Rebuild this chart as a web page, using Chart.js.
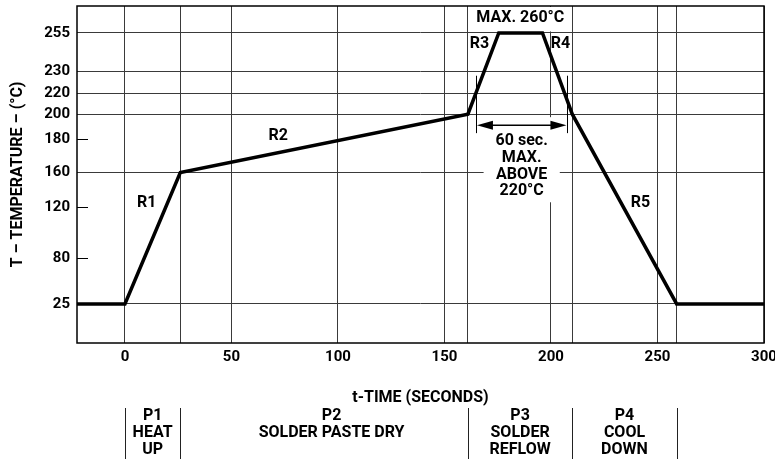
<!DOCTYPE html>
<html><head><meta charset="utf-8">
<script src="https://cdn.jsdelivr.net/npm/chart.js@4.4.1/dist/chart.umd.min.js"></script>
<style>html,body{margin:0;padding:0;background:#fff}#wrap{width:775px;height:462px;position:relative}</style>
</head><body><div id="wrap"><canvas id="c"></canvas></div>
<script>
// ---------- data ----------
const profileTime = [-22.5, 0, 26, 161, 175.5, 196, 210, 259, 300];
const profileTemp = [25, 25, 160, 200, 255, 255, 200, 25, 25];
const xTickValues = [0, 50, 100, 150, 200, 250, 300];
const phaseBounds = [0, 26, 161, 210, 259];
const yTickValues = [25, 80, 120, 160, 180, 200, 220, 230, 255];
const yGridValues = [25, 160, 200, 220, 230, 255];
const phaseLabels = [['P1', 'HEAT', 'UP'], ['P2', 'SOLDER PASTE DRY'], ['P3', 'SOLDER', 'REFLOW'], ['P4', 'COOL', 'DOWN']];
const phaseLabelTime = [13, 97, 185.5, 234.5];
const rateLabels = ['R1', 'R2', 'R3', 'R4', 'R5'];
const rateLabelTime = [10.2, 72, 166.4, 204.4, 242];
const rateLabelTemp = [125, 183, 247.5, 247.5, 125];
const peakLabel = 'MAX. 260°C';
const peakLabelAt = [185.6, 263.5];
const windowLabel = ['60 sec.', 'MAX.', 'ABOVE', '220°C'];
const windowTime = [165, 207.5];
const windowArrowTemp = 191.3;
const windowMarkTemp = [228, 185];

// ---------- schematic (non-linear) temperature axis ----------
const Y_STOPS = [[0, 0], [25, 0.1159], [80, 0.2513], [120, 0.404], [160, 0.506], [180, 0.604], [200, 0.679], [220, 0.7415], [230, 0.806], [255, 0.92], [270, 1]];
function warp(v) {
  for (let i = 1; i < Y_STOPS.length; i++) {
    const [v0, f0] = Y_STOPS[i - 1], [v1, f1] = Y_STOPS[i];
    if (v <= v1 || i === Y_STOPS.length - 1) return f0 + (v - v0) / (v1 - v0) * (f1 - f0);
  }
}
function unwarp(f) {
  for (let i = 1; i < Y_STOPS.length; i++) {
    const [v0, f0] = Y_STOPS[i - 1], [v1, f1] = Y_STOPS[i];
    if (f <= f1 || i === Y_STOPS.length - 1) return v0 + (f - f0) / (f1 - f0) * (v1 - v0);
  }
}
class WarpScale extends Chart.LinearScale {
  getPixelForValue(v) { return this.getPixelForDecimal(warp(v)); }
  getValueForPixel(p) { return unwarp(this.getDecimalForPixel(p)); }
}
WarpScale.id = 'warp';
WarpScale.defaults = Chart.LinearScale.defaults;
Chart.register(WarpScale);

const FAMILY = "Roboto, 'Liberation Sans', sans-serif";
const FONT = "bold 16px " + FAMILY;
Chart.defaults.font.family = FAMILY;
Chart.defaults.font.size = 16;
Chart.defaults.font.weight = 'bold';
Chart.defaults.color = '#000';

const GRID = '#3a3a3a';

const notes = {
  id: 'notes',
  beforeDatasetsDraw(chart) {
    const {ctx, chartArea: a} = chart;
    const xs = chart.scales.x, ys = chart.scales.y;
    ctx.save();
    // short inward ticks
    ctx.strokeStyle = '#000'; ctx.lineWidth = 1;
    yTickValues.filter(v => !yGridValues.includes(v)).forEach(v => {
      const py = Math.round(ys.getPixelForValue(v)) + 0.5;
      ctx.beginPath(); ctx.moveTo(a.left, py); ctx.lineTo(a.left + 11, py); ctx.stroke();
    });
    ctx.font = FONT; ctx.fillStyle = '#000'; ctx.textAlign = 'center'; ctx.textBaseline = 'middle';
    // peak label with white backing
    const pcx = xs.getPixelForValue(peakLabelAt[0]);
    const pw = ctx.measureText(peakLabel).width;
    ctx.fillStyle = '#fff';
    ctx.fillRect(pcx - pw / 2 - 7, a.top + 1, pw + 14, ys.getPixelForValue(255) - a.top - 2.5);
    ctx.fillStyle = '#000';
    ctx.fillText(peakLabel, pcx, ys.getPixelForValue(peakLabelAt[1]));
    // 60 s window
    const xl = xs.getPixelForValue(windowTime[0]), xr = xs.getPixelForValue(windowTime[1]);
    const ay = ys.getPixelForValue(windowArrowTemp);
    const cx = (xl + xr) / 2;
    const lh = 16.7;
    const bw = Math.max(...windowLabel.map(t => ctx.measureText(t).width)) + 24;
    ctx.fillStyle = '#fff';
    ctx.fillRect(cx - bw / 2, ay - 8, bw, 16 + lh * (windowLabel.length - 1) + 19);
    ctx.fillStyle = '#000';
    windowLabel.forEach((t, i) => ctx.fillText(t, cx, ay + 16 + i * lh));
    ctx.strokeStyle = '#000'; ctx.lineWidth = 1;
    [xl, xr].forEach(px => {
      ctx.beginPath();
      ctx.moveTo(Math.round(px) + 0.5, ys.getPixelForValue(windowMarkTemp[0]));
      ctx.lineTo(Math.round(px) + 0.5, ys.getPixelForValue(windowMarkTemp[1]));
      ctx.stroke();
    });
    ctx.lineWidth = 1.5;
    ctx.beginPath(); ctx.moveTo(xl + 10, ay); ctx.lineTo(xr - 10, ay); ctx.stroke();
    const head = (tip, dir) => {
      ctx.beginPath(); ctx.moveTo(tip, ay); ctx.lineTo(tip + dir * 16, ay - 4.5); ctx.lineTo(tip + dir * 16, ay + 4.5); ctx.closePath(); ctx.fill();
    };
    head(xl + 0.5, 1); head(xr - 0.5, -1);
    // rate labels
    rateLabels.forEach((t, i) => ctx.fillText(t, xs.getPixelForValue(rateLabelTime[i]), ys.getPixelForValue(rateLabelTemp[i])));
    ctx.restore();
  },
  afterDatasetsDraw(chart) {
    const {ctx, chartArea: a} = chart;
    ctx.save();
    ctx.strokeStyle = '#000'; ctx.lineWidth = 1.5;
    ctx.strokeRect(a.left, a.top, a.right - a.left, a.bottom - a.top);
    ctx.restore();
  },
  afterDraw(chart) {
    const {ctx, chartArea: a} = chart;
    const xs = chart.scales.x;
    ctx.save();
    ctx.strokeStyle = '#222'; ctx.lineWidth = 1;
    phaseBounds.forEach(t => {
      const px = Math.round(xs.getPixelForValue(t)) + 0.5;
      ctx.beginPath(); ctx.moveTo(px, a.bottom + 65); ctx.lineTo(px, a.bottom + 116); ctx.stroke();
    });
    ctx.font = FONT; ctx.fillStyle = '#000'; ctx.textAlign = 'center'; ctx.textBaseline = 'middle';
    phaseLabels.forEach((lines, i) => {
      const px = xs.getPixelForValue(phaseLabelTime[i]);
      lines.forEach((t, j) => ctx.fillText(t, px, a.bottom + 73 + j * 17));
    });
    ctx.restore();
  }
};

new Chart(document.getElementById('c'), {
  type: 'line',
  data: {
    datasets: [{
      data: profileTime.map((t, i) => ({x: t, y: profileTemp[i]})),
      borderColor: '#000', borderWidth: 3.5, pointRadius: 0, tension: 0, fill: false,
      borderJoinStyle: 'miter', borderCapStyle: 'butt'
    }]
  },
  options: {
    responsive: true, maintainAspectRatio: false, animation: false,
    layout: {padding: {top: 6, right: 11, left: 0, bottom: 0}},
    plugins: {legend: {display: false}, tooltip: {enabled: false}},
    scales: {
      x: {
        type: 'linear', min: -22.5, max: 300,
        afterBuildTicks: s => { s.ticks = [...new Set([...xTickValues, ...phaseBounds])].sort((p, q) => p - q).map(v => ({value: v})); },
        afterFit: s => { s.height = 119; s.paddingLeft = 0; s.paddingRight = 0; },
        ticks: {autoSkip: false, maxRotation: 0, padding: 5, color: '#000', font: {size: 15}, callback: v => xTickValues.includes(v) ? String(v) : ''},
        grid: {color: GRID, lineWidth: 1, drawTicks: false},
        border: {display: false},
        title: {display: true, text: 't-TIME (SECONDS)', color: '#000', padding: {top: 0, bottom: 54}}
      },
      y: {
        type: 'warp', min: 0, max: 270,
        afterBuildTicks: s => { s.ticks = yTickValues.map(v => ({value: v})); },
        afterFit: s => { s.width = 77; s.paddingTop = 0; s.paddingBottom = 0; },
        ticks: {autoSkip: false, padding: 7, color: '#000', font: {size: 15}, callback: v => String(v)},
        grid: {color: c => (c.tick && yGridValues.includes(c.tick.value)) ? GRID : 'rgba(0,0,0,0)', lineWidth: 1, drawTicks: false},
        border: {display: false},
        title: {display: true, text: 'T – TEMPERATURE – (°C)', color: '#000', padding: {top: 8, bottom: 0}}
      }
    }
  },
  plugins: [notes]
});
</script></body></html>
